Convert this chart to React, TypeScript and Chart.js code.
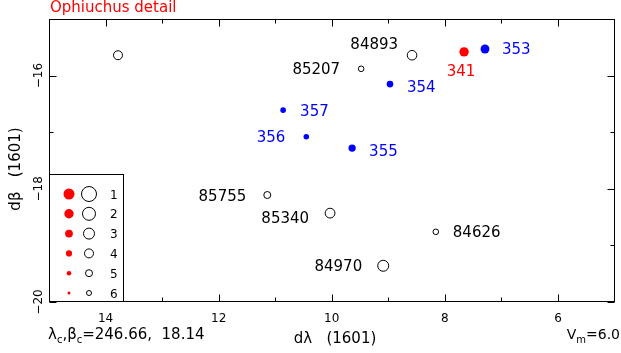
import React, { useEffect, useRef } from 'react';
import { Chart, registerables } from 'chart.js';

Chart.register(...registerables);

// ---- data ----
const starNames = ['', '84893', '85207', '85755', '85340', '84626', '84970'];
const starX = [13.78, 8.58, 9.48, 11.14, 10.03, 8.16, 9.09];
const starY = [-15.64, -15.64, -15.88, -18.11, -18.43, -18.76, -19.36];
const starMag = [4.0, 3.7, 5.7, 5.0, 3.6, 5.7, 3.0];
const starLabelPos = ['', 'ul', 'l', 'l', 'lb', 'r', 'l'];

const blueNames = ['353', '354', '355', '356', '357'];
const blueX = [7.29, 8.97, 9.64, 10.45, 10.86];
const blueY = [-15.53, -16.15, -17.28, -17.08, -16.61];
const blueMag = [2.3, 3.7, 3.3, 4.4, 4.4];
const blueLabelPos = ['r', 'rb', 'rb', 'l', 'r'];

const redNames = ['341'];
const redX = [7.66];
const redY = [-15.58];
const redMag = [2.0];
const redLabelPos = ['b'];

const xMajorTicks = [14, 12, 10, 8, 6];
const xMinorTicks = [13, 11, 9, 7];
const yMajorTicks = [-16, -18, -20];
const yMinorTicks = [-17, -19];
const legendMags = [1, 2, 3, 4, 5, 6];

const FONT = "'DejaVu Sans', sans-serif";
const BLUE = '#0000ff';
const RED = '#ff0000';

const openRadius = (m: number) => 9 - m - 0.5;
const dotRadius = (m: number) => 6.3 - 0.8 * m;

type Seg = { t: string; sub?: boolean };

function drawSegs(ctx: CanvasRenderingContext2D, segs: Seg[], x: number, y: number, size: number, align: 'left' | 'right') {
  const subSize = Math.round(size * 0.68);
  const widths = segs.map((s) => {
    ctx.font = `${s.sub ? subSize : size}px ${FONT}`;
    return ctx.measureText(s.t).width;
  });
  const total = widths.reduce((a, b) => a + b, 0);
  let cx = align === 'left' ? x : x - total;
  ctx.textAlign = 'left';
  ctx.textBaseline = 'alphabetic';
  segs.forEach((s, i) => {
    ctx.font = `${s.sub ? subSize : size}px ${FONT}`;
    ctx.fillText(s.t, cx, s.sub ? y + 4 : y);
    cx += widths[i];
  });
}

const decorPlugin = {
  id: 'decor',
  afterDatasetsDraw(chart: any) {
    const ctx: CanvasRenderingContext2D = chart.ctx;
    const xs = chart.scales.x;
    const ys = chart.scales.y;
    const { left, right, top, bottom } = chart.chartArea;
    const L = Math.round(left) + 0.5;
    const R = Math.round(right) - 0.5;
    const T = Math.round(top) + 0.5;
    const B = Math.round(bottom) - 0.5;
    ctx.save();
    ctx.strokeStyle = '#000';
    ctx.lineWidth = 1;
    ctx.strokeRect(L, T, R - L, B - T);

    // ticks
    ctx.beginPath();
    const xt = (v: number, len: number) => {
      const p = Math.round(xs.getPixelForValue(v)) + 0.5;
      ctx.moveTo(p, B); ctx.lineTo(p, B - len);
      ctx.moveTo(p, T); ctx.lineTo(p, T + len);
    };
    const yt = (v: number, len: number) => {
      const p = Math.round(ys.getPixelForValue(v)) + 0.5;
      ctx.moveTo(L, p); ctx.lineTo(L + len, p);
      ctx.moveTo(R, p); ctx.lineTo(R - len, p);
    };
    xMajorTicks.forEach((v) => xt(v, 7));
    xMinorTicks.forEach((v) => xt(v, 4));
    yMajorTicks.forEach((v) => yt(v, 7));
    yMinorTicks.forEach((v) => yt(v, 4));
    ctx.stroke();

    ctx.fillStyle = '#000';
    ctx.font = `12px ${FONT}`;
    ctx.textAlign = 'center';
    ctx.textBaseline = 'alphabetic';
    xMajorTicks.forEach((v) => {
      ctx.fillText(String(v), xs.getPixelForValue(v), 322);
    });
    yMajorTicks.forEach((v) => {
      ctx.save();
      ctx.translate(42, ys.getPixelForValue(v));
      ctx.rotate(-Math.PI / 2);
      ctx.fillText(String(v).replace('-', '\u2212'), 0, 0);
      ctx.restore();
    });

    // axis titles
    ctx.font = `15px ${FONT}`;
    ctx.fillText('d\u03bb   (1601)', 335, 343);
    ctx.save();
    ctx.translate(20, 169);
    ctx.rotate(-Math.PI / 2);
    ctx.fillText('d\u03b2   (1601)', 0, 0);
    ctx.restore();

    // title
    ctx.fillStyle = RED;
    ctx.textAlign = 'left';
    ctx.fillText('Ophiuchus detail', 50, 12);

    // bottom annotations
    ctx.fillStyle = '#000';
    drawSegs(ctx, [{ t: '\u03bb' }, { t: 'c', sub: true }, { t: ',\u03b2' }, { t: 'c', sub: true }, { t: '=246.66,  18.14' }], 48, 339, 15, 'left');
    drawSegs(ctx, [{ t: 'V' }, { t: 'm', sub: true }, { t: '=6.0' }], 620, 339, 14, 'right');

    // key box
    const kx0 = L, ky0 = 174.5, kx1 = 123.5;
    ctx.fillStyle = '#fff';
    ctx.fillRect(kx0, ky0, kx1 - kx0, B - ky0);
    ctx.strokeStyle = '#000';
    ctx.strokeRect(kx0, ky0, kx1 - kx0, B - ky0);
    legendMags.forEach((m, i) => {
      const cy = 194 + i * 19.8;
      ctx.fillStyle = RED;
      ctx.beginPath();
      ctx.arc(69, cy, dotRadius(m), 0, Math.PI * 2);
      ctx.fill();
      ctx.strokeStyle = '#000';
      ctx.beginPath();
      ctx.arc(89, cy, openRadius(m), 0, Math.PI * 2);
      ctx.stroke();
      ctx.fillStyle = '#000';
      ctx.font = `12px ${FONT}`;
      ctx.textAlign = 'left';
      ctx.fillText(String(m), 110, cy + 4.5);
    });

    // point labels
    const groups: [number, string[], string[], string][] = [
      [0, starNames, starLabelPos, '#000'],
      [1, blueNames, blueLabelPos, BLUE],
      [2, redNames, redLabelPos, RED],
    ];
    ctx.font = `15px ${FONT}`;
    groups.forEach(([di, names, pos, col]) => {
      const meta = chart.getDatasetMeta(di);
      meta.data.forEach((el: any, i: number) => {
        const name = names[i];
        if (!name) return;
        ctx.fillStyle = col;
        const p = pos[i];
        let x = el.x, y = el.y + 5.5;
        if (p === 'r' || p === 'rb') { ctx.textAlign = 'left'; x += 17; if (p === 'rb') y += 2.5; }
        else if (p === 'l' || p === 'lb') { ctx.textAlign = 'right'; x -= 21; if (p === 'lb') y += 4; }
        else if (p === 'ul') { ctx.textAlign = 'right'; x -= 14; y -= 12; }
        else if (p === 'b') { ctx.textAlign = 'center'; x -= 3; y += 19; }
        ctx.fillText(name, x, y);
      });
    });
    ctx.restore();
  },
};

export default function App() {
  const ref = useRef<HTMLCanvasElement | null>(null);
  useEffect(() => {
    if (!ref.current) return;
    const chart = new Chart(ref.current, {
      type: 'scatter',
      data: {
        datasets: [
          {
            data: starX.map((x, i) => ({ x, y: starY[i] })),
            pointRadius: starMag.map(openRadius),
            pointBackgroundColor: 'rgba(0,0,0,0)',
            pointBorderColor: '#000',
            pointBorderWidth: 1,
          },
          {
            data: blueX.map((x, i) => ({ x, y: blueY[i] })),
            pointRadius: blueMag.map(dotRadius),
            pointBackgroundColor: BLUE,
            pointBorderWidth: 0,
          },
          {
            data: redX.map((x, i) => ({ x, y: redY[i] })),
            pointRadius: redMag.map(dotRadius),
            pointBackgroundColor: RED,
            pointBorderWidth: 0,
          },
        ],
      },
      options: {
        responsive: false,
        animation: false,
        events: [],
        layout: { padding: { left: 49, top: 19, right: 5, bottom: 51 } },
        scales: {
          x: { type: 'linear', min: 5, max: 15, reverse: true, display: false },
          y: { type: 'linear', min: -20, max: -15, display: false },
        },
        plugins: { legend: { display: false }, tooltip: { enabled: false } },
      },
      plugins: [decorPlugin],
    });
    return () => chart.destroy();
  }, []);
  return (
    <div style={{ position: 'fixed', left: 0, top: 0, width: 621, height: 353, background: '#fff' }}>
      <canvas ref={ref} width={621} height={353} style={{ display: 'block' }} />
    </div>
  );
}
